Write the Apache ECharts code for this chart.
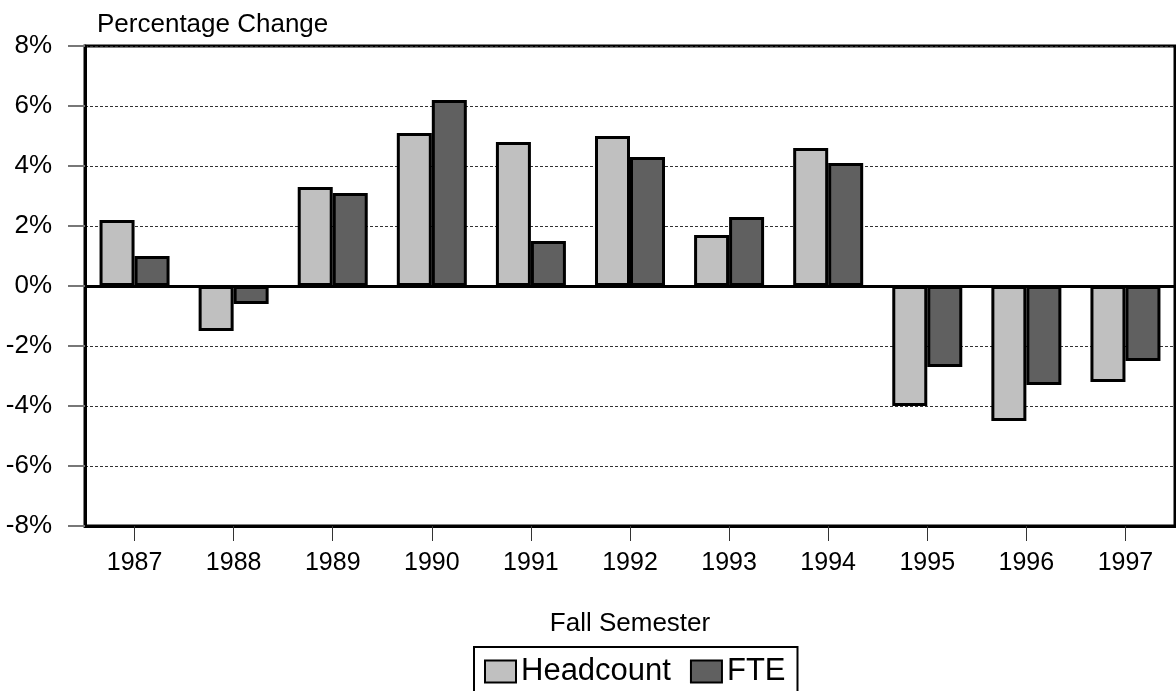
<!DOCTYPE html>
<html>
<head>
<meta charset="utf-8">
<script src="https://cdn.jsdelivr.net/npm/echarts@6/dist/echarts.min.js"></script>
<style>
html,body{margin:0;padding:0;background:#fff;}
#chart{width:1176px;height:691px;}
</style>
</head>
<body>
<div id="chart"></div>
<script>
const categories = ['1987','1988','1989','1990','1991','1992','1993','1994','1995','1996','1997'];
const headcount = [2.2, -1.5, 3.3, 5.1, 4.8, 5.0, 1.7, 4.6, -4.0, -4.5, -3.2];
const fte = [1.0, -0.6, 3.1, 6.2, 1.5, 4.3, 2.3, 4.1, -2.7, -3.3, -2.5];
const seriesNames = ['Headcount', 'FTE'];
const yTitle = 'Percentage Change';
const xTitle = 'Fall Semester';

const FONT = '"Liberation Sans", Arial, sans-serif';
const chart = echarts.init(document.getElementById('chart'), null, {renderer: 'canvas'});
chart.setOption({
  animation: false,
  backgroundColor: '#fff',
  textStyle: {fontFamily: FONT, color: '#000'},
  title: {
    text: yTitle, left: 92, top: 7,
    textStyle: {fontFamily: FONT, fontSize: 26, fontWeight: 'normal', color: '#000'}
  },
  legend: {
    data: seriesNames,
    left: 474, top: 647,
    orient: 'horizontal',
    itemWidth: 31, itemHeight: 22, itemGap: 19,
    padding: [9, 12, 40, 10],
    borderColor: '#000', borderWidth: 2,
    textStyle: {fontFamily: FONT, fontSize: 31, color: '#000'},
    icon: 'rect'
  },
  grid: {
    left: 85, right: 1, top: 46, bottom: 165,
    show: true, borderColor: '#000', borderWidth: 3, backgroundColor: '#fff'
  },
  xAxis: {
    type: 'category', data: categories,
    name: xTitle, nameLocation: 'middle', nameGap: 85,
    nameTextStyle: {fontFamily: FONT, fontSize: 26, color: '#000'},
    axisLine: {onZero: false, show: true, lineStyle: {color: '#000', width: 3}},
    axisTick: {show: true, alignWithLabel: true, length: 15, lineStyle: {color: '#333', width: 1}},
    axisLabel: {fontFamily: FONT, fontSize: 25, color: '#000', margin: 25},
    splitLine: {show: false}
  },
  yAxis: {
    type: 'value', min: -8, max: 8, interval: 2,
    axisLine: {show: true, lineStyle: {color: '#000', width: 3}},
    axisTick: {show: true, inside: false, length: 17, lineStyle: {color: '#777', width: 2}},
    axisLabel: {fontFamily: FONT, fontSize: 26, color: '#000', margin: 33, formatter: '{value}%'},
    splitLine: {show: true, lineStyle: {color: '#333', width: 1, type: [3, 2]}}
  },
  series: [
    {
      name: seriesNames[0], type: 'bar', data: headcount,
      barWidth: 35, barGap: '0%',
      itemStyle: {color: '#C0C0C0', borderColor: '#000', borderWidth: 3},
      markLine: {
        silent: true, symbol: 'none', animation: false,
        label: {show: false},
        lineStyle: {color: '#000', width: 3, type: 'solid'},
        data: [{yAxis: 0}],
        z: 10
      }
    },
    {
      name: seriesNames[1], type: 'bar', data: fte,
      barWidth: 35, barGap: '0%',
      itemStyle: {color: '#606060', borderColor: '#000', borderWidth: 3}
    }
  ]
});
</script>
</body>
</html>
